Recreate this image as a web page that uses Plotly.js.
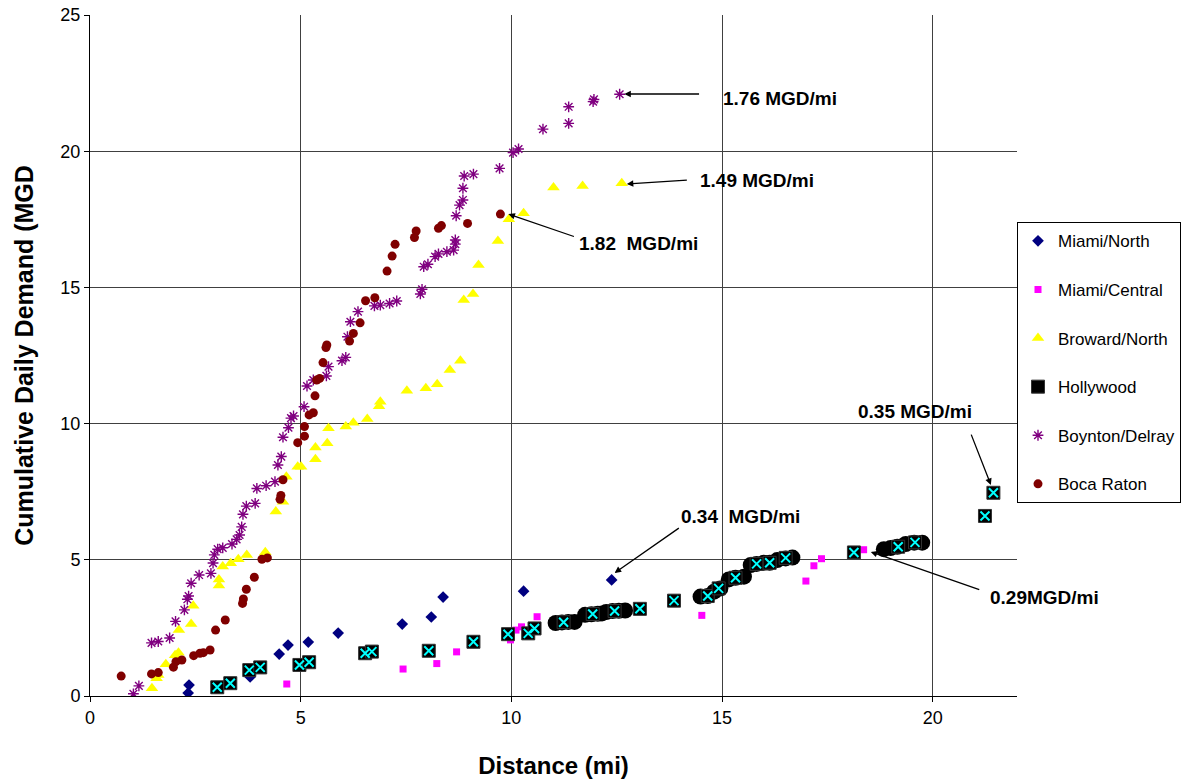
<!DOCTYPE html>
<html>
<head>
<meta charset="utf-8">
<script src="https://cdn.plot.ly/plotly-3.0.1.min.js"></script>
<style>html,body{margin:0;padding:0;background:#fff;}#chart{width:1182px;height:780px;}</style>
</head>
<body>
<div id="chart"></div>
<script>
// ---- Data ----
const miamiNorthX = [2.33, 2.35, 3.80, 4.49, 4.70, 5.18, 5.89, 7.41, 8.10, 8.38, 10.29, 12.38];
const miamiNorthY = [0.11, 0.40, 0.70, 1.54, 1.87, 1.98, 2.31, 2.64, 2.90, 3.63, 3.85, 4.26];

const miamiCentralX = [4.67, 7.43, 8.23, 8.70, 9.98, 10.11, 10.24, 10.61, 14.52, 16.99, 17.18, 17.36, 18.36];
const miamiCentralY = [0.44, 0.99, 1.19, 1.62, 2.06, 2.42, 2.54, 2.91, 2.96, 4.22, 4.78, 5.04, 5.37];

const browardX = [1.47, 1.58, 1.62, 1.80, 2.02, 2.10, 2.11, 2.40, 2.45, 3.06, 3.06, 3.15, 3.34, 3.52, 3.72, 4.16,
  4.41, 4.58, 4.66, 4.93, 5.01, 5.35, 5.35, 5.63, 5.66, 6.07, 6.25, 6.58, 6.86, 6.89, 7.52, 7.97, 8.24, 8.54,
  8.79, 8.87, 9.09, 9.22, 9.68, 9.94, 10.29, 11.00, 11.69, 12.62];
const browardY = [0.28, 0.65, 0.77, 1.17, 1.50, 1.59, 2.42, 2.64, 3.31, 4.06, 4.28, 4.75, 4.87, 5.02, 5.18, 5.28,
  6.77, 7.13, 8.05, 8.42, 8.42, 8.69, 9.12, 9.28, 9.83, 9.89, 10.03, 10.17, 10.64, 10.80, 11.21, 11.30, 11.44, 11.97,
  12.31, 14.54, 14.76, 15.82, 16.70, 17.50, 17.72, 18.67, 18.72, 18.82];

const hollywoodX = [3.02, 3.33, 3.78, 4.04, 4.97, 5.20, 6.53, 6.69, 8.04, 9.10, 9.92, 10.40, 10.55, 11.24, 11.93,
  12.45, 13.05, 13.86, 14.66, 14.92, 15.32, 15.82, 16.13, 16.51, 18.13, 19.18, 19.58, 21.24, 21.44];
const hollywoodY = [0.32, 0.47, 0.95, 1.05, 1.14, 1.24, 1.57, 1.63, 1.66, 1.99, 2.27, 2.30, 2.48, 2.71, 3.01,
  3.12, 3.20, 3.50, 3.67, 3.95, 4.34, 4.85, 4.89, 5.07, 5.27, 5.48, 5.64, 6.61, 7.46];
// densely packed Hollywood readings that merge into black blobs
const hollywoodDenseX = [11.05, 11.20, 11.35, 11.50, 11.75, 11.90, 12.05, 12.15, 12.25, 12.40, 12.55, 12.70,
  14.49, 14.66, 14.81, 14.96, 15.16, 15.32, 15.52, 15.68, 15.82, 15.99, 16.13, 16.31, 16.51, 16.67,
  18.84, 19.00, 19.16, 19.36, 19.56, 19.75];
const hollywoodDenseY = [2.68, 2.70, 2.72, 2.72, 2.98, 3.00, 3.02, 3.03, 3.08, 3.12, 3.13, 3.14,
  3.65, 3.67, 3.83, 3.95, 4.28, 4.34, 4.38, 4.81, 4.85, 4.89, 4.89, 4.99, 5.05, 5.08,
  5.39, 5.43, 5.48, 5.58, 5.63, 5.63];

const boyntonX = [1.03, 1.16, 1.46, 1.62, 1.89, 2.03, 2.24, 2.31, 2.34, 2.40, 2.59, 2.87, 2.92, 2.95, 3.03, 3.15,
  3.37, 3.48, 3.55, 3.60, 3.63, 3.71, 3.92, 3.96, 4.18, 4.39, 4.46, 4.54, 4.58, 4.71, 4.77, 4.83, 5.08, 5.15,
  5.30, 5.61, 5.66, 5.98, 6.07, 6.11, 6.18, 6.36, 6.75, 6.89, 7.11, 7.28, 7.84, 7.88, 7.92, 8.02, 8.19, 8.27,
  8.47, 8.63, 8.67, 8.67, 8.69, 8.77, 8.85, 8.85, 8.88, 9.10, 9.72, 10.04, 10.17, 10.75, 11.36, 11.36, 11.94,
  11.96, 12.57];
const boyntonY = [0.08, 0.37, 1.95, 2.00, 2.13, 2.74, 3.16, 3.55, 3.67, 4.14, 4.44, 4.50, 4.88, 5.18, 5.39, 5.44,
  5.58, 5.75, 5.91, 6.21, 6.67, 6.97, 7.07, 7.62, 7.72, 7.87, 8.48, 8.79, 9.50, 9.85, 10.20, 10.28, 10.62, 11.38,
  11.60, 11.75, 12.09, 12.31, 12.43, 13.19, 13.74, 14.11, 14.32, 14.35, 14.41, 14.50, 14.76, 14.93, 15.76, 15.85, 16.13, 16.23,
  16.31, 16.37, 16.59, 16.74, 17.63, 18.02, 18.21, 18.64, 19.09, 19.16, 19.37, 19.95, 20.08, 20.81, 21.02, 21.63, 21.82,
  21.90, 22.09];

const bocaX = [0.74, 1.46, 1.62, 1.98, 2.04, 2.18, 2.46, 2.61, 2.69, 2.85, 2.98, 3.21, 3.62, 3.64, 3.71, 3.90,
  4.08, 4.21, 4.51, 4.53, 4.58, 4.93, 5.09, 5.09, 5.20, 5.30, 5.34, 5.38, 5.45, 5.53, 5.60, 5.62, 6.16, 6.25,
  6.41, 6.54, 6.76, 7.05, 7.17, 7.24, 7.70, 7.74, 8.27, 8.34, 8.96, 9.74];
const bocaY = [0.73, 0.81, 0.86, 1.06, 1.26, 1.32, 1.48, 1.57, 1.59, 1.69, 2.42, 2.79, 3.40, 3.56, 3.92, 4.36,
  5.02, 5.07, 7.22, 7.36, 7.94, 9.30, 9.54, 9.89, 10.32, 10.40, 11.02, 11.60, 11.66, 12.24, 12.79, 12.89, 13.03, 13.31,
  13.70, 14.51, 14.62, 15.60, 16.15, 16.58, 16.83, 17.07, 17.17, 17.27, 17.35, 17.69];

// Annotations: label text, label position, arrow head and arrow tail
const noteText = ["1.76 MGD/mi", "1.49 MGD/mi", "1.82\u00A0 MGD/mi", "0.35 MGD/mi", "0.34\u00A0 MGD/mi", "0.29MGD/mi"];
const noteX = [14.98, 14.42, 11.55, 18.17, 13.99, 21.30];
const noteY = [21.95, 18.94, 16.63, 10.43, 6.58, 3.63];
const arrowHeadX = [12.68, 12.74, 9.93, 21.38, 12.45, 18.53];
const arrowHeadY = [22.10, 18.80, 17.69, 7.75, 4.52, 5.29];
const arrowTailX = [14.49, 14.20, 11.52, 20.90, 14.01, 21.14];
const arrowTailY = [22.10, 18.94, 16.85, 9.65, 6.20, 3.89];

const FONT = '"Liberation Sans", Arial, sans-serif';

const traces = [
  {x: miamiNorthX, y: miamiNorthY, name: 'Miami/North', mode: 'markers', type: 'scatter', legendgroup: 'g1',
   marker: {symbol: 'diamond', size: 9, color: '#000080'}},
  {x: miamiCentralX, y: miamiCentralY, name: 'Miami/Central', mode: 'markers', type: 'scatter', legendgroup: 'g2',
   marker: {symbol: 'square', size: 7, color: '#FF00FF'}},
  {x: browardX, y: browardY, name: 'Broward/North', mode: 'markers', type: 'scatter', legendgroup: 'g3',
   marker: {symbol: 'triangle-up', size: 11, color: '#FFFF00'}},
  {x: hollywoodDenseX, y: hollywoodDenseY, name: 'Hollywood', mode: 'markers', type: 'scatter', legendgroup: 'g4',
   showlegend: false, marker: {symbol: 'circle', size: 16, color: '#000000'}},
  {x: hollywoodX, y: hollywoodY, name: 'Hollywood', mode: 'markers', type: 'scatter', legendgroup: 'g4',
   marker: {symbol: 'square', size: 13, color: '#000000', line: {color: '#333333', width: 1}}},
  {x: hollywoodX, y: hollywoodY, name: 'Hollywood', mode: 'markers', type: 'scatter', legendgroup: 'g4',
   showlegend: false, marker: {symbol: 'x-thin', size: 9, color: '#00FFFF', line: {color: '#00FFFF', width: 2}}},
  {x: boyntonX, y: boyntonY, name: 'Boynton/Delray', mode: 'markers', type: 'scatter', legendgroup: 'g5',
   marker: {symbol: 'asterisk', size: 9, color: '#800080', line: {color: '#800080', width: 1.4}}},
  {x: bocaX, y: bocaY, name: 'Boca Raton', mode: 'markers', type: 'scatter', legendgroup: 'g6',
   marker: {symbol: 'circle', size: 9, color: '#800000'}}
];

const annotations = [];
for (let i = 0; i < noteText.length; i++) {
  annotations.push({
    x: arrowHeadX[i], y: arrowHeadY[i], xref: 'x', yref: 'y',
    ax: arrowTailX[i], ay: arrowTailY[i], axref: 'x', ayref: 'y',
    text: '', showarrow: true, arrowhead: 2, arrowsize: 1, arrowwidth: 1.3,
    arrowcolor: '#000000', standoff: 0, startstandoff: 0
  });
  annotations.push({
    x: noteX[i], y: noteY[i], xref: 'x', yref: 'y', text: '<b>' + noteText[i] + '</b>',
    showarrow: false, xanchor: 'left', yanchor: 'middle',
    font: {family: FONT, size: 19, color: '#000000'}
  });
}

const layout = {
  width: 1182, height: 780,
  margin: {l: 90, r: 165, t: 15, b: 84, autoexpand: false},
  paper_bgcolor: '#ffffff', plot_bgcolor: '#ffffff',
  font: {family: FONT, color: '#000000'},
  showlegend: true,
  xaxis: {
    range: [0, 22], tickvals: [0, 5, 10, 15, 20], ticktext: ['0', '5', '10', '15', '20'],
    showgrid: true, gridcolor: '#404040', gridwidth: 1, zeroline: false,
    showline: true, linecolor: '#000000', linewidth: 1,
    ticks: 'outside', ticklen: 5, tickcolor: '#000000',
    tickfont: {family: FONT, size: 18, color: '#000000'},
    title: {text: '<b>Distance (mi)</b>', font: {family: FONT, size: 24, color: '#000000'}, standoff: 30}
  },
  yaxis: {
    range: [0, 25], tickvals: [0, 5, 10, 15, 20, 25], ticktext: ['0', '5', '10', '15', '20', '25'],
    showgrid: true, gridcolor: '#404040', gridwidth: 1, zeroline: false,
    showline: true, linecolor: '#000000', linewidth: 1,
    ticks: 'outside', ticklen: 5, tickcolor: '#000000',
    tickfont: {family: FONT, size: 18, color: '#000000'},
    title: {text: '<b>Cumulative Daily Demand (MGD</b>', font: {family: FONT, size: 25, color: '#000000'}, standoff: 19}
  },
  legend: {
    x: 1, xanchor: 'left', xref: 'paper', y: 0.6956, yanchor: 'top',
    bgcolor: '#ffffff', bordercolor: '#000000', borderwidth: 1,
    font: {family: FONT, size: 17, color: '#000000'},
    traceorder: 'grouped', tracegroupgap: 23.5, itemwidth: 30
  },
  annotations: annotations
};

Plotly.newPlot('chart', traces, layout, {displayModeBar: false, staticPlot: true});
</script>
</body>
</html>
